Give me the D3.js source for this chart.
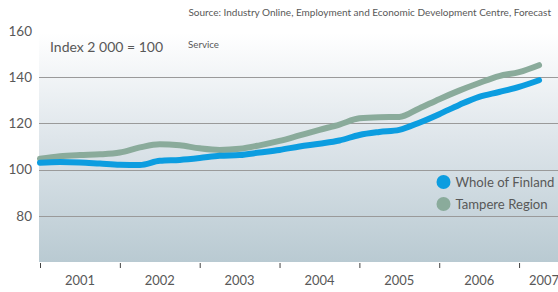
<!DOCTYPE html>
<html>
<head>
<meta charset="utf-8">
<script src="https://cdn.jsdelivr.net/npm/d3@7"></script>
<style>
  html, body { margin: 0; padding: 0; background: #fff; }
  svg { display: block; font-family: Lato, "Open Sans", sans-serif; }
</style>
</head>
<body>
<svg id="chart" width="558" height="292"></svg>
<script>
// ---- data (quarterly, index 2000 = 100) ----
const quarters = d3.range(26).map(i => 2001 + i / 4);
const wholeOfFinland = [103.0, 103.3, 103.1, 102.6, 102.1, 102.0, 103.8, 104.2, 105.0, 106.0,
                        106.3, 107.4, 108.5, 110.0, 111.2, 112.6, 115.0, 116.3, 117.2, 120.3,
                        124.0, 128.0, 131.5, 133.6, 135.8, 138.7];
const tampereRegion  = [104.7, 105.8, 106.3, 106.6, 107.4, 109.6, 111.0, 110.5, 109.2, 108.5,
                        109.0, 110.5, 112.4, 114.8, 117.2, 119.5, 122.2, 122.7, 122.8, 126.5,
                        130.5, 134.2, 137.5, 140.5, 142.2, 145.2];
const yearTicks = [2001, 2002, 2003, 2004, 2005, 2006, 2007];
const yearLabels = ["2001", "2002", "2003", "2004", "2005", "2006", "2007"];
const yTicks = [80, 100, 120, 140, 160];
const seriesNames = ["Whole of Finland", "Tampere Region"];
const seriesColors = ["#0c9de0", "#8aab9b"];

const W = 558, H = 292;
const mLeft = 39, mRight = 558, mTop = 33, mBottom = 262;
const svg = d3.select("#chart");
const txtColor = "#585858";

// font size that makes a sample string span the given width
function sizeFor(str, fs, width) {
  const t = svg.append("text").attr("font-size", fs).text(str);
  const w = t.node().getComputedTextLength();
  t.remove();
  return w > 0 ? +(fs * width / w).toFixed(2) : fs;
}

const x = d3.scaleLinear().domain([2001, 2007 + 0.4875]).range([mLeft + 1, mRight]);
const y = d3.scaleLinear().domain([60, 160]).range([mBottom, 31]);

// background gradient
const defs = svg.append("defs");
const grad = defs.append("linearGradient").attr("id", "bg").attr("x1", 0).attr("x2", 0).attr("y1", 0).attr("y2", 1);
grad.append("stop").attr("offset", "0%").attr("stop-color", "#ffffff");
grad.append("stop").attr("offset", "45%").attr("stop-color", "#dfe6eb");
grad.append("stop").attr("offset", "100%").attr("stop-color", "#b9cad2");
svg.append("rect").attr("x", mLeft).attr("y", mTop).attr("width", mRight - mLeft).attr("height", mBottom - mTop)
  .attr("fill", "url(#bg)");

// gridlines
svg.append("g").selectAll("line").data(yTicks.filter(d => d < 160)).join("line")
  .attr("x1", mLeft).attr("x2", mRight)
  .attr("y1", d => Math.round(y(d)) + 0.5).attr("y2", d => Math.round(y(d)) + 0.5)
  .attr("stroke", "#9a9a9a").attr("stroke-width", 1);

// y axis labels
const yFs = sizeFor("100", 16, 23.5);
svg.append("g").selectAll("text").data(yTicks).join("text")
  .attr("x", 32).attr("y", d => y(d)).attr("dy", "0.36em")
  .attr("text-anchor", "end").attr("font-size", yFs).attr("fill", txtColor)
  .text(d => d);

// x axis ticks
const xAxis = d3.axisBottom(x).tickValues(yearTicks).tickSize(5).tickFormat("");
const gx = svg.append("g").attr("transform", `translate(0,${mBottom + 1})`).call(xAxis);
gx.select(".domain").remove();
gx.selectAll(".tick line").attr("stroke", "#444");

// year labels
const xFs = sizeFor("2001", 15, 30);
svg.append("g").selectAll("text").data(yearTicks).join("text")
  .attr("x", (d, i) => Math.min(x(d + 0.5), W - 14))
  .attr("y", 285).attr("text-anchor", "middle")
  .attr("font-size", xFs).attr("fill", txtColor)
  .text((d, i) => yearLabels[i]);

// lines
const line = d3.line().x((d, i) => x(quarters[i])).y(d => y(d)).curve(d3.curveMonotoneX);
[tampereRegion, wholeOfFinland].forEach((s, k) => {
  const idx = 1 - k;
  svg.append("path").datum(s).attr("d", line)
    .attr("fill", "none").attr("stroke", seriesColors[idx]).attr("stroke-width", 6)
    .attr("stroke-linecap", "round").attr("stroke-linejoin", "round");
});

// texts
const title = "Index 2 000 = 100", sub = "Service",
      source = "Source: Industry Online, Employment and Economic Development Centre, Forecast";
svg.append("text").attr("x", 50).attr("y", 52).attr("font-size", sizeFor(title, 16, 113)).attr("fill", txtColor)
  .text(title);
svg.append("text").attr("x", 188).attr("y", 47.5).attr("font-size", sizeFor(sub, 9, 31)).attr("fill", txtColor)
  .text(sub);
svg.append("text").attr("x", 551).attr("y", 16).attr("text-anchor", "end")
  .attr("font-size", sizeFor(source, 9, 363)).attr("fill", txtColor).text(source);

// legend
const lgFs = sizeFor(seriesNames[0], 15, 99);
const lg = svg.append("g");
seriesNames.forEach((n, i) => {
  const yy = 182 + i * 22;
  lg.append("circle").attr("cx", 443.5).attr("cy", yy).attr("r", 7).attr("fill", seriesColors[i]);
  lg.append("text").attr("x", 455.5).attr("y", yy).attr("dy", "0.36em")
    .attr("font-size", lgFs).attr("fill", txtColor).text(n);
});
</script>
</body>
</html>
